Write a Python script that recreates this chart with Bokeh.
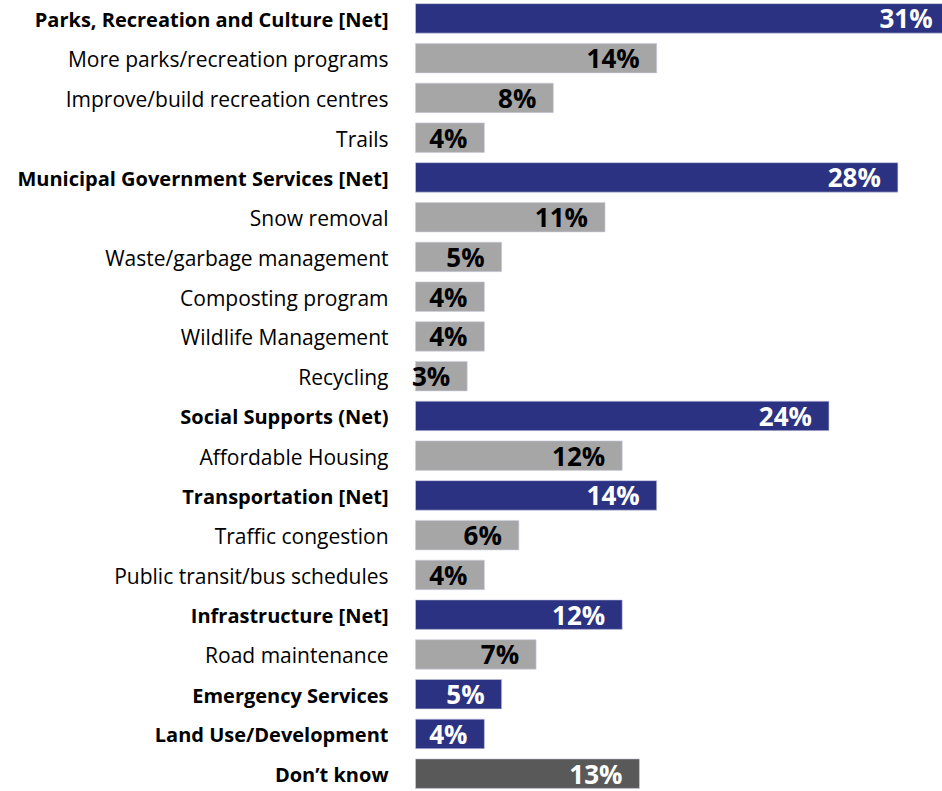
from bokeh.plotting import figure
from bokeh.models import ColumnDataSource, Range1d
from bokeh.core.properties import value
from bokeh.embed import file_html
from bokeh.resources import INLINE

categories = [
    "Parks, Recreation and Culture [Net]",
    "More parks/recreation programs",
    "Improve/build recreation centres",
    "Trails",
    "Municipal Government Services [Net]",
    "Snow removal",
    "Waste/garbage management",
    "Composting program",
    "Wildlife Management",
    "Recycling",
    "Social Supports (Net)",
    "Affordable Housing",
    "Transportation [Net]",
    "Traffic congestion",
    "Public transit/bus schedules",
    "Infrastructure [Net]",
    "Road maintenance",
    "Emergency Services",
    "Land Use/Development",
    "Don\u2019t know",
]
values = [31, 14, 8, 4, 28, 11, 5, 4, 4, 3, 24, 12, 14, 6, 4, 12, 7, 5, 4, 13]
kinds = ["net", "sub", "sub", "sub", "net", "sub", "sub", "sub", "sub", "sub",
         "net", "sub", "net", "sub", "sub", "net", "sub", "net", "net", "dk"]

bar_colors = {"net": "#2B3281", "sub": "#A6A6A6", "dk": "#595959"}
val_colors = {"net": "#FFFFFF", "sub": "#000000", "dk": "#FFFFFF"}
lab_styles = {"net": "bold", "sub": "normal", "dk": "bold"}
lab_sizes = {"net": "20px", "sub": "21px", "dk": "20px"}

src = ColumnDataSource(dict(
    y=list(range(len(categories))),
    v=values,
    cat=categories,
    lbl=[f"{v}%" for v in values],
    fill=[bar_colors[k] for k in kinds],
    vcol=[val_colors[k] for k in kinds],
    lstyle=[lab_styles[k] for k in kinds],
    lsize=[lab_sizes[k] for k in kinds],
))

W, H = 942, 791
p = figure(width=W, height=H, output_backend="svg", toolbar_location=None,
           x_range=Range1d(-24.09, 30.59), y_range=Range1d(19.449, -0.450),
           min_border_left=0, min_border_right=0, min_border_top=0, min_border_bottom=0)
p.axis.visible = False
p.grid.visible = False
p.outline_line_color = None
p.background_fill_color = "white"

p.hbar(y="y", left=0, right="v", height=0.742, fill_color="fill",
       line_color="#C9CCE0", line_width=0.6, source=src)

p.text(x="v", y="y", text="lbl", text_color="vcol", x_offset=-17, y_offset=0,
       text_align="right", text_baseline="middle",
       text_font=value("Open Sans"), text_font_style="bold", text_font_size="26px",
       source=src)

p.text(x=0, y="y", text="cat", text_color="#000000", x_offset=-27, y_offset=1,
       text_align="right", text_baseline="middle",
       text_font=value("Open Sans"), text_font_style="lstyle", text_font_size="lsize",
       source=src)

open("out.html", "w").write(file_html(p, INLINE))
